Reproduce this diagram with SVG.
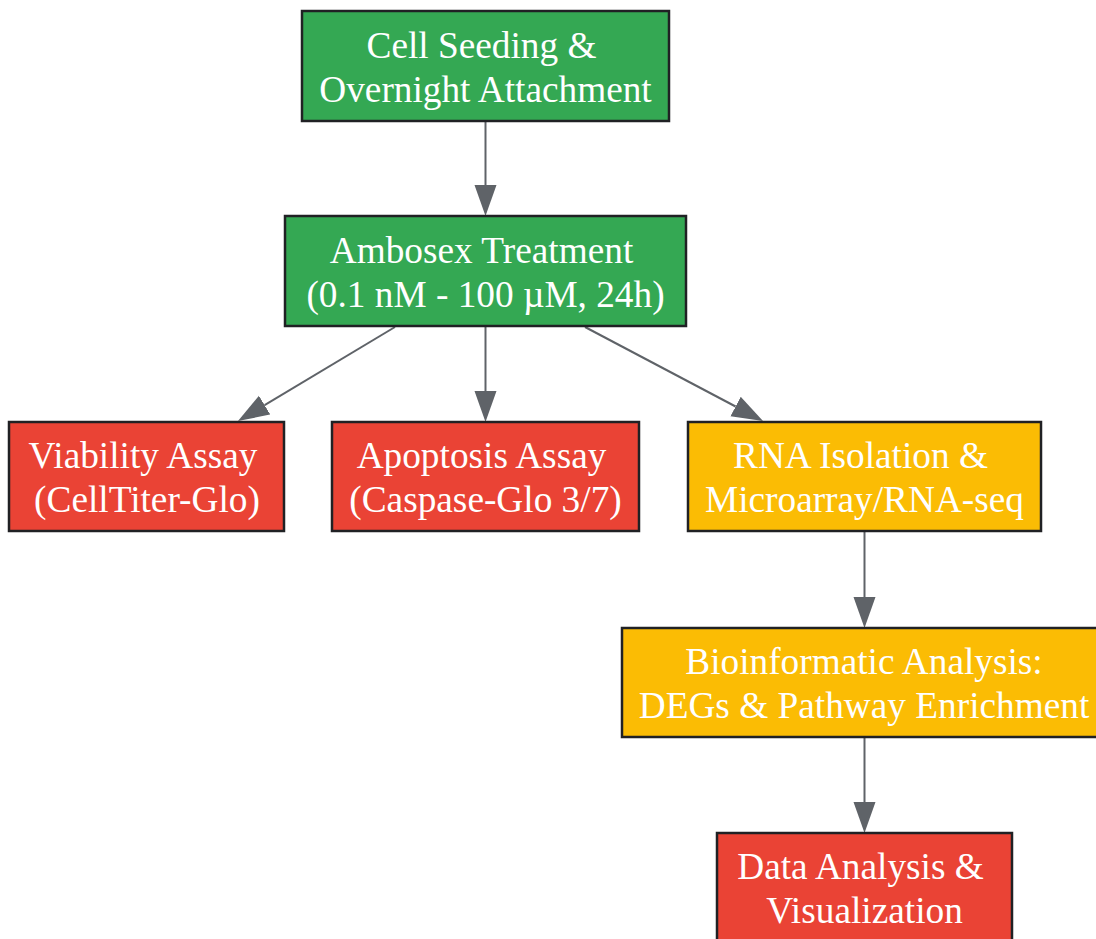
<svg xmlns="http://www.w3.org/2000/svg" width="1096" height="939" viewBox="0 0 1096 939">
<style>
.box{stroke:#202124;stroke-width:2.5}
.g{fill:#34a853}
.r{fill:#ea4335}
.y{fill:#fbbc04}
text{font-family:"Liberation Serif","Times New Roman",serif;font-size:37.3px;fill:#ffffff;text-anchor:middle}
.e{stroke:#5f6368;stroke-width:2;fill:none;marker-end:url(#arr)}
</style>
<defs>
<marker id="arr" markerUnits="userSpaceOnUse" markerWidth="32" markerHeight="23" refX="0" refY="11" orient="auto">
<path d="M0,0 L31,11 L0,22 Z" fill="#5f6368"/>
</marker>
</defs>
<rect width="1096" height="939" fill="#ffffff"/>
<g id="edges">
<line class="e" x1="485.5" y1="122" x2="485.5" y2="185"/>
<line class="e" x1="395" y1="327" x2="264.6" y2="405.1"/>
<line class="e" x1="485.5" y1="327" x2="485.5" y2="391"/>
<line class="e" x1="585" y1="327" x2="735.6" y2="406.5"/>
<line class="e" x1="864.5" y1="532" x2="864.5" y2="597"/>
<line class="e" x1="864.5" y1="738" x2="864.5" y2="802"/>
</g>
<g id="n1"><rect class="box g" x="302" y="11" width="367" height="110"/><text x="481.5" y="58">Cell Seeding &amp;</text><text x="485.5" y="102">Overnight Attachment</text></g>
<g id="n2"><rect class="box g" x="285" y="216" width="401" height="110"/><text x="481.5" y="263">Ambosex Treatment</text><text x="485.5" y="307">(0.1 nM - 100 µM, 24h)</text></g>
<g id="n3"><rect class="box r" x="9" y="422" width="275" height="109"/><text x="143" y="468">Viability Assay</text><text x="147" y="512">(CellTiter-Glo)</text></g>
<g id="n4"><rect class="box r" x="332" y="422" width="307" height="109"/><text x="481.5" y="468">Apoptosis Assay</text><text x="485.5" y="512">(Caspase-Glo 3/7)</text></g>
<g id="n5"><rect class="box y" x="688" y="422" width="353" height="109"/><text x="860.5" y="468">RNA Isolation &amp;</text><text x="864.5" y="512">Microarray/RNA-seq</text></g>
<g id="n6"><rect class="box y" x="622" y="628" width="485" height="109"/><text x="864" y="674">Bioinformatic Analysis:</text><text x="864" y="718">DEGs &amp; Pathway Enrichment</text></g>
<g id="n7"><rect class="box r" x="717" y="833" width="295" height="110"/><text x="860.5" y="879">Data Analysis &amp;</text><text x="864.5" y="923">Visualization</text></g>
</svg>
